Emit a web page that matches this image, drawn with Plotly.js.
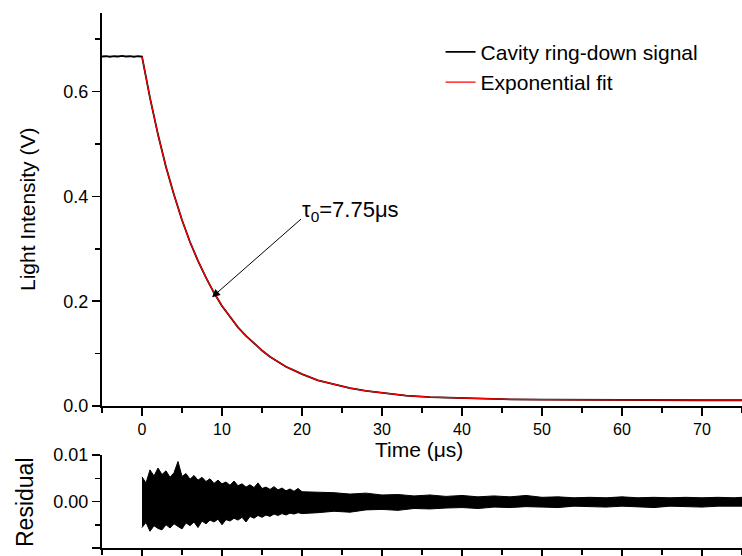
<!DOCTYPE html>
<html>
<head>
<meta charset="utf-8">
<script src="https://cdn.plot.ly/plotly-3.0.1.min.js"></script>
<style>html,body{margin:0;padding:0;background:#fff;}#chart{width:742px;height:556px;}</style>
</head>
<body>
<div id="chart"></div>
<script>
// ---- Data ----
// Cavity ring-down signal (time in µs, intensity in V)
const sigT = [-5,-4.5,-4,-3.5,-3,-2.5,-2,-1.5,-1,-0.5,0,1,2,3,4,5,6,7,8,9,10,11,12,13,14,15,16,17,18,19,20,22,24,26,28,30,33,36,40,45,50,55,60,65,70,75];
const sigV = [0.667,0.6675,0.6665,0.6675,0.667,0.668,0.667,0.6675,0.6665,0.6675,0.667,0.588,0.518,0.456,0.403,0.355,0.313,0.277,0.245,0.216,0.191,0.170,0.150,0.134,0.119,0.106,0.094,0.084,0.075,0.068,0.061,0.049,0.041,0.034,0.029,0.025,0.020,0.017,0.015,0.013,0.012,0.0115,0.011,0.011,0.011,0.011];
// Exponential fit (tau0 = 7.75 µs)
const fitT = [0,1,2,3,4,5,6,7,8,9,10,11,12,13,14,15,16,17,18,19,20,22,24,26,28,30,33,36,40,45,50,55,60,65,70,75];
const fitV = [0.667,0.588,0.518,0.456,0.403,0.355,0.313,0.277,0.245,0.216,0.191,0.170,0.150,0.134,0.119,0.106,0.094,0.084,0.075,0.068,0.061,0.049,0.041,0.034,0.029,0.025,0.020,0.017,0.015,0.013,0.012,0.0115,0.011,0.011,0.011,0.011];
// Residual envelope (upper / lower extent of the noise band)
const resT = [0,0.5,1,1.5,2,2.5,3,3.5,4,4.5,5,5.5,6,6.5,7,7.5,8,8.5,9,9.5,10,10.5,11,11.5,12,12.5,13,13.5,14,14.5,15,15.5,16,16.5,17,17.5,18,18.5,19,19.5,20,
              22,24,26,28,30,32,34,36,38,40,42,44,46,48,50,52,54,56,58,60,62,64,66,68,70,72,74,75];
const resUpper = [0.0053,0.0040,0.0068,0.0055,0.0072,0.0058,0.0066,0.0052,0.0062,0.0086,0.0054,0.0060,0.0048,0.0056,0.0046,0.0052,0.0043,0.0049,0.0039,0.0046,0.0038,0.0042,0.0035,0.0044,0.0034,0.0038,0.0031,0.0036,0.0030,0.0040,0.0028,0.0031,0.0026,0.0032,0.0025,0.0029,0.0023,0.0027,0.0022,0.0028,0.0021,
                  0.0020,0.0019,0.0016,0.0018,0.0014,0.0015,0.0012,0.0014,0.0011,0.0013,0.0010,0.0012,0.0010,0.0013,0.0009,0.0010,0.0008,0.0009,0.0008,0.0010,0.0008,0.0009,0.0008,0.0009,0.0008,0.0009,0.0008,0.0009];
const resLower = [-0.0056,-0.0045,-0.0064,-0.0052,-0.0058,-0.0061,-0.0050,-0.0057,-0.0048,-0.0054,-0.0059,-0.0046,-0.0052,-0.0044,-0.0056,-0.0042,-0.0048,-0.0040,-0.0044,-0.0038,-0.0050,-0.0039,-0.0042,-0.0036,-0.0040,-0.0034,-0.0044,-0.0032,-0.0036,-0.0030,-0.0034,-0.0029,-0.0032,-0.0027,-0.0030,-0.0026,-0.0029,-0.0025,-0.0027,-0.0024,-0.0026,
                  -0.0024,-0.0021,-0.0023,-0.0018,-0.0017,-0.0019,-0.0015,-0.0016,-0.0014,-0.0013,-0.0015,-0.0012,-0.0013,-0.0011,-0.0012,-0.0013,-0.0010,-0.0011,-0.0012,-0.0010,-0.0011,-0.0013,-0.0010,-0.0011,-0.0012,-0.0010,-0.0011,-0.0010];
// Tick labels
const yTickVals = [0.0,0.2,0.4,0.6];
const yTickText = ['0.0','0.2','0.4','0.6'];
const resTickVals = [-0.01,0,0.01];
const resTickText = ['-0.01','0.00','0.01'];

const FONT = 'Liberation Sans, Arial, Helvetica, sans-serif';

const traces = [
  {x: sigT, y: sigV, type: 'scatter', mode: 'lines', name: 'Cavity ring-down signal',
   line: {color: '#000000', width: 1.8}, xaxis: 'x', yaxis: 'y'},
  {x: fitT, y: fitV, type: 'scatter', mode: 'lines', name: 'Exponential fit',
   line: {color: '#ff0000', width: 1.2}, xaxis: 'x', yaxis: 'y'},
  {x: resT, y: resUpper, type: 'scatter', mode: 'lines', showlegend: false,
   line: {color: '#000000', width: 1}, xaxis: 'x2', yaxis: 'y2'},
  {x: resT, y: resLower, type: 'scatter', mode: 'lines', showlegend: false, fill: 'tonexty',
   fillcolor: '#000000', line: {color: '#000000', width: 1}, xaxis: 'x2', yaxis: 'y2'}
];

const axisCommon = {
  showgrid: false, zeroline: false, showline: true, linecolor: '#000', linewidth: 2,
  ticks: 'outside', ticklen: 8, tickwidth: 1.5, tickcolor: '#000'
};

const layout = {
  width: 742, height: 556,
  margin: {l: 102, r: 0, t: 13, b: 8},
  paper_bgcolor: '#fff', plot_bgcolor: '#fff',
  font: {family: FONT, color: '#000'},
  showlegend: true,
  legend: {x: 0.529, y: 0.965, xanchor: 'left', yanchor: 'top', bgcolor: 'rgba(0,0,0,0)',
           traceorder: 'normal',
           font: {family: FONT, size: 21, color: '#000'}, itemwidth: 30, tracegroupgap: 0},
  xaxis: Object.assign({}, axisCommon, {
    domain: [0, 1], range: [-5, 75], anchor: 'y', dtick: 10, tick0: 0,
    tickfont: {size: 16, family: FONT},
    minor: {dtick: 5, tick0: 0, ticks: 'outside', ticklen: 5, tickwidth: 1.5, tickcolor: '#000'}
  }),
  yaxis: Object.assign({}, axisCommon, {
    domain: [0.2654, 1], range: [0, 0.75], anchor: 'x',
    tickvals: yTickVals, ticktext: yTickText, tickfont: {size: 18, family: FONT},
    minor: {tickvals: [0.1,0.3,0.5,0.7], ticks: 'outside', ticklen: 5, tickwidth: 1.5, tickcolor: '#000'}
  }),
  xaxis2: Object.assign({}, axisCommon, {
    domain: [0, 1], range: [-5, 75], anchor: 'y2', dtick: 10, tick0: 0, showticklabels: false,
    minor: {dtick: 5, tick0: 0, ticks: 'outside', ticklen: 5, tickwidth: 1.5, tickcolor: '#000'}
  }),
  yaxis2: Object.assign({}, axisCommon, {
    domain: [0, 0.1738], range: [-0.01, 0.01], anchor: 'x2',
    tickvals: resTickVals, ticktext: resTickText, tickfont: {size: 18, family: FONT},
    minor: {tickvals: [-0.005, 0.005], ticks: 'outside', ticklen: 5, tickwidth: 1.5, tickcolor: '#000'}
  }),
  annotations: [
    {xref: 'paper', yref: 'paper', x: 0.495, y: 0.1832, xanchor: 'center', yanchor: 'middle',
     text: 'Time (μs)', showarrow: false, font: {size: 21, family: FONT}},
    {xref: 'paper', yref: 'paper', x: -0.1156, y: 0.6318, xanchor: 'center', yanchor: 'middle',
     text: 'Light Intensity (V)', textangle: -90, showarrow: false, font: {size: 21, family: FONT}},
    {xref: 'paper', yref: 'paper', x: -0.1203, y: 0.086, xanchor: 'center', yanchor: 'middle',
     text: 'Residual', textangle: -90, showarrow: false, font: {size: 23, family: FONT}},
    {xref: 'x', yref: 'y', x: 8.75, y: 0.2076, text: '&nbsp;', showarrow: true, axref: 'pixel', ayref: 'pixel',
     ax: 90, ay: -79, arrowhead: 2, arrowsize: 1.6, arrowwidth: 1, arrowcolor: '#000', standoff: 0, startstandoff: 0,
     font: {size: 2}, borderpad: 0},
    {xref: 'x', yref: 'y', x: 19.75, y: 0.373, xanchor: 'left', yanchor: 'middle',
     text: 'τ<sub>0</sub>=7.75μs', showarrow: false, font: {size: 22, family: FONT}}
  ]
};

Plotly.newPlot('chart', traces, layout, {displayModeBar: false, staticPlot: true});
</script>
</body>
</html>
